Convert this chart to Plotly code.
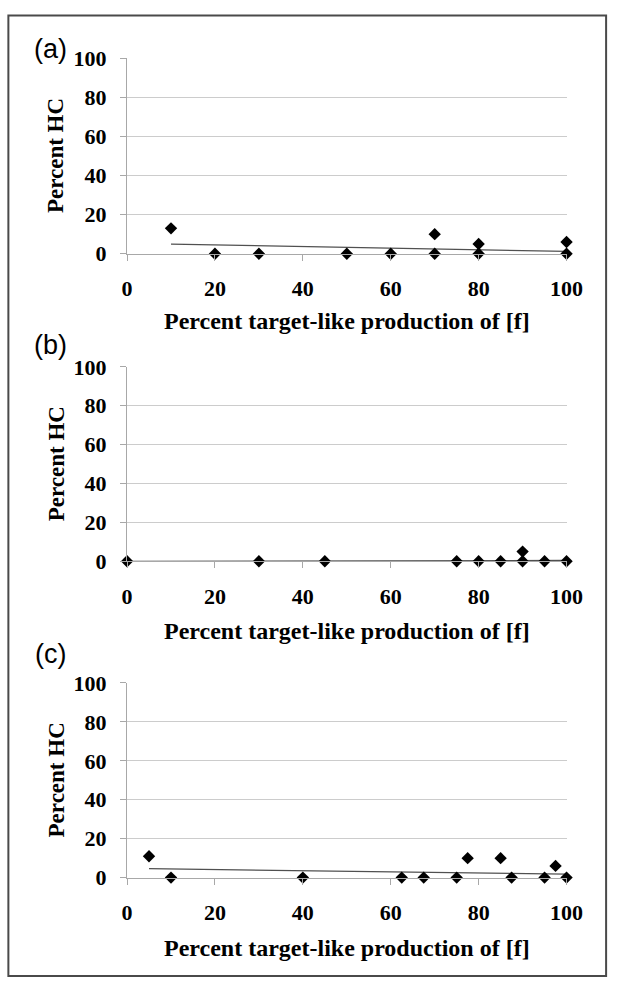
import plotly.graph_objects as go

W, H = 626, 992

# ---- data ----
a_x = [10, 20, 30, 50, 60, 70, 70, 80, 80, 100, 100]
a_y = [13, 0, 0, 0, 0, 10, 0, 5, 0, 6, 0]
a_trend_x = [10, 100]
a_trend_y = [4.9, 1.2]

b_x = [0, 30, 45, 75, 80, 85, 90, 90, 95, 100]
b_y = [0, 0, 0, 0, 0, 0, 5, 0, 0, 0]
b_trend_x = [0, 100]
b_trend_y = [0.0, 0.4]

c_x = [5, 10, 40, 62.5, 67.5, 75, 77.5, 85, 87.5, 95, 97.5, 100]
c_y = [11, 0, 0, 0, 0, 0, 10, 10, 0, 0, 6, 0]
c_trend_x = [5, 100]
c_trend_y = [4.6, 1.8]

tick_vals = [0, 20, 40, 60, 80, 100]
tick_text = ["0", "20", "40", "60", "80", "100"]
panel_labels = ["(a)", "(b)", "(c)"]
x_title = "Percent target-like production of [f]"
y_title = "Percent HC"

panels = [
    (a_x, a_y, a_trend_x, a_trend_y),
    (b_x, b_y, b_trend_x, b_trend_y),
    (c_x, c_y, c_trend_x, c_trend_y),
]

# ---- layout geometry (pixels) ----
plot_left, plot_right = 126.5, 582
panel_top = [47.3, 364.0, 688.3]
panel_bot = [248.0, 563.5, 888.0]
xtitle_y = [317, 635, 960]
label_y = [37.5, 342, 659]


def fx(px):
    return px / W


def fy(px):
    return 1 - px / H


fig = go.Figure()
serif = "Liberation Serif"
annotations = []

for i, (xs, ys, tx, ty) in enumerate(panels):
    n = "" if i == 0 else str(i + 1)
    xa = "x" + n
    ya = "y" + n
    fig.add_trace(go.Scatter(
        x=tx, y=ty, mode="lines", xaxis=xa, yaxis=ya,
        line=dict(color="#505050", width=1.3), showlegend=False,
        hoverinfo="skip"))
    fig.add_trace(go.Scatter(
        x=xs, y=ys, mode="markers", xaxis=xa, yaxis=ya,
        marker=dict(symbol="diamond", size=9.5, color="black"),
        cliponaxis=False, showlegend=False))

    axis_common = dict(
        range=[0, 100], tickvals=tick_vals, ticktext=tick_text,
        tickfont=dict(family=serif, size=22, color="black", weight="bold"),
        showline=True, linecolor="#a8a8a8", linewidth=1.2,
        ticks="outside", tickcolor="#a8a8a8", ticklen=6, tickwidth=1,
        zeroline=False, fixedrange=True,
    )
    fig.update_layout(**{
        "xaxis" + n: dict(
            axis_common,
            domain=[fx(plot_left), fx(plot_right)],
            anchor=ya, showgrid=False, ticklabelstandoff=9,
        ),
        "yaxis" + n: dict(
            axis_common,
            domain=[fy(panel_bot[i]), fy(panel_top[i])],
            anchor=xa, showgrid=True, gridcolor="#cccccc", gridwidth=1,
            ticklabelstandoff=9,
        ),
    })
    annotations.append(dict(
        text="<b>" + x_title + "</b>", xref="paper", yref="paper",
        x=fx((plot_left + plot_right) / 2), y=fy(xtitle_y[i]),
        xanchor="center", yanchor="middle", showarrow=False,
        font=dict(family=serif, size=24, color="black"),
    ))
    annotations.append(dict(
        text="<b>" + y_title + "</b>", xref="paper", yref="paper",
        x=fx(53), y=fy((panel_top[i] + panel_bot[i]) / 2),
        xanchor="center", yanchor="middle", showarrow=False, textangle=-90,
        font=dict(family=serif, size=23, color="black"),
    ))
    annotations.append(dict(
        text=panel_labels[i], xref="paper", yref="paper",
        x=fx(47), y=fy(label_y[i]),
        xanchor="center", yanchor="middle", showarrow=False,
        font=dict(family="Liberation Sans", size=27, color="black"),
    ))

fig.update_layout(
    width=W, height=H,
    margin=dict(l=0, r=0, t=0, b=0),
    paper_bgcolor="white", plot_bgcolor="white",
    annotations=annotations,
    shapes=[dict(type="rect", xref="paper", yref="paper",
                 x0=fx(3.5), x1=fx(623), y0=fy(989), y1=fy(3.5),
                 line=dict(color="#4a4a4a", width=2))],
)

fig.write_html(
    "out.html",
    config={"displayModeBar": False},
    post_script="document.body.style.margin='0';document.body.style.overflow='hidden';",
)
